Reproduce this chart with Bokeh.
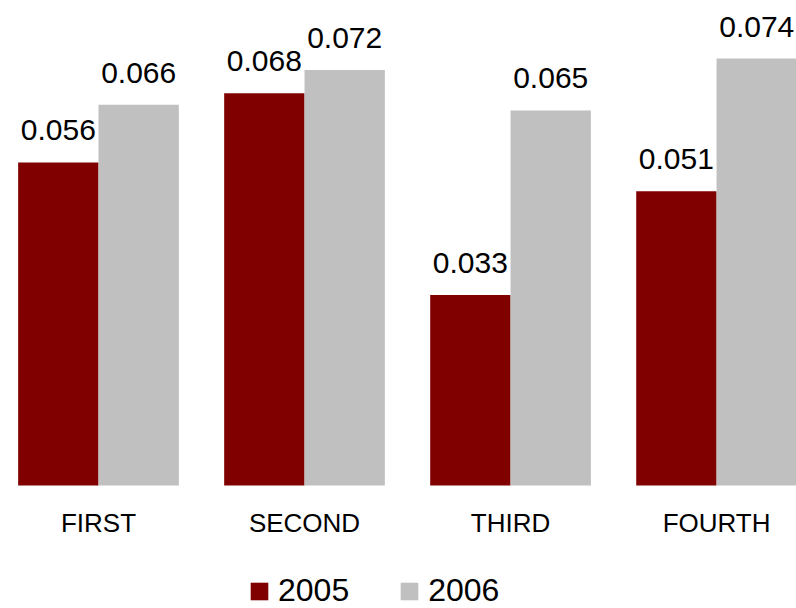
from bokeh.plotting import figure
from bokeh.models import ColumnDataSource, Range1d, FixedTicker, Legend, LegendItem
from bokeh.transform import dodge
from bokeh.core.properties import value
from bokeh.embed import file_html
from bokeh.resources import INLINE

categories = ["FIRST", "SECOND", "THIRD", "FOURTH"]
years = ["2005", "2006"]
series_2005 = [0.056, 0.068, 0.033, 0.051]
series_2006 = [0.066, 0.072, 0.065, 0.074]

RED = "#800000"
GRAY = "#C0C0C0"
FONT = "Liberation Sans"

pos = list(range(len(categories)))
src = ColumnDataSource(dict(
    x=pos,
    y05=series_2005,
    y06=series_2006,
    t05=[f"{v:.3f}" for v in series_2005],
    t06=[f"{v:.3f}" for v in series_2006],
))

p = figure(width=796, height=608, output_backend="svg", toolbar_location=None,
           x_range=Range1d(-0.4757, 3.388), y_range=Range1d(-0.021317, 0.084055),
           y_axis_location=None, min_border_left=0, min_border_right=0,
           min_border_top=0, min_border_bottom=0, outline_line_color=None)
p.grid.visible = False

bw = 0.39
r1 = p.vbar(x=dodge('x', -bw / 2, range=p.x_range), top='y05', bottom=0, width=bw,
            source=src, fill_color=RED, line_color=None)
r2 = p.vbar(x=dodge('x', bw / 2, range=p.x_range), top='y06', bottom=0, width=bw,
            source=src, fill_color=GRAY, line_color=None)

for col, t, off in (("y05", "t05", -bw / 2), ("y06", "t06", bw / 2)):
    p.text(x=dodge('x', off, range=p.x_range), y=col, text=t, source=src,
           text_align="center", text_baseline="alphabetic", y_offset=-32,
           text_font=value(FONT), text_font_size="30px", text_color="black")

ax = p.xaxis[0]
ax.fixed_location = 0
ax.ticker = FixedTicker(ticks=pos)
ax.major_label_overrides = {i: c for i, c in enumerate(categories)}
ax.axis_line_color = None
ax.major_tick_line_color = None
ax.minor_tick_line_color = None
ax.major_label_text_font = FONT
ax.major_label_text_font_size = "26px"
ax.major_label_text_color = "black"
ax.major_label_standoff = 16

legend = Legend(items=[LegendItem(label=years[0], renderers=[r1]),
                       LegendItem(label=years[1], renderers=[r2])],
                orientation="horizontal", location=(248, -1),
                glyph_width=22, glyph_height=22, label_standoff=8, spacing=49,
                padding=0, margin=0, border_line_color=None,
                background_fill_alpha=0,
                label_text_font=FONT, label_text_font_size="32px",
                label_text_color="black")
p.add_layout(legend)

open("out.html", "w").write(file_html(p, INLINE))
